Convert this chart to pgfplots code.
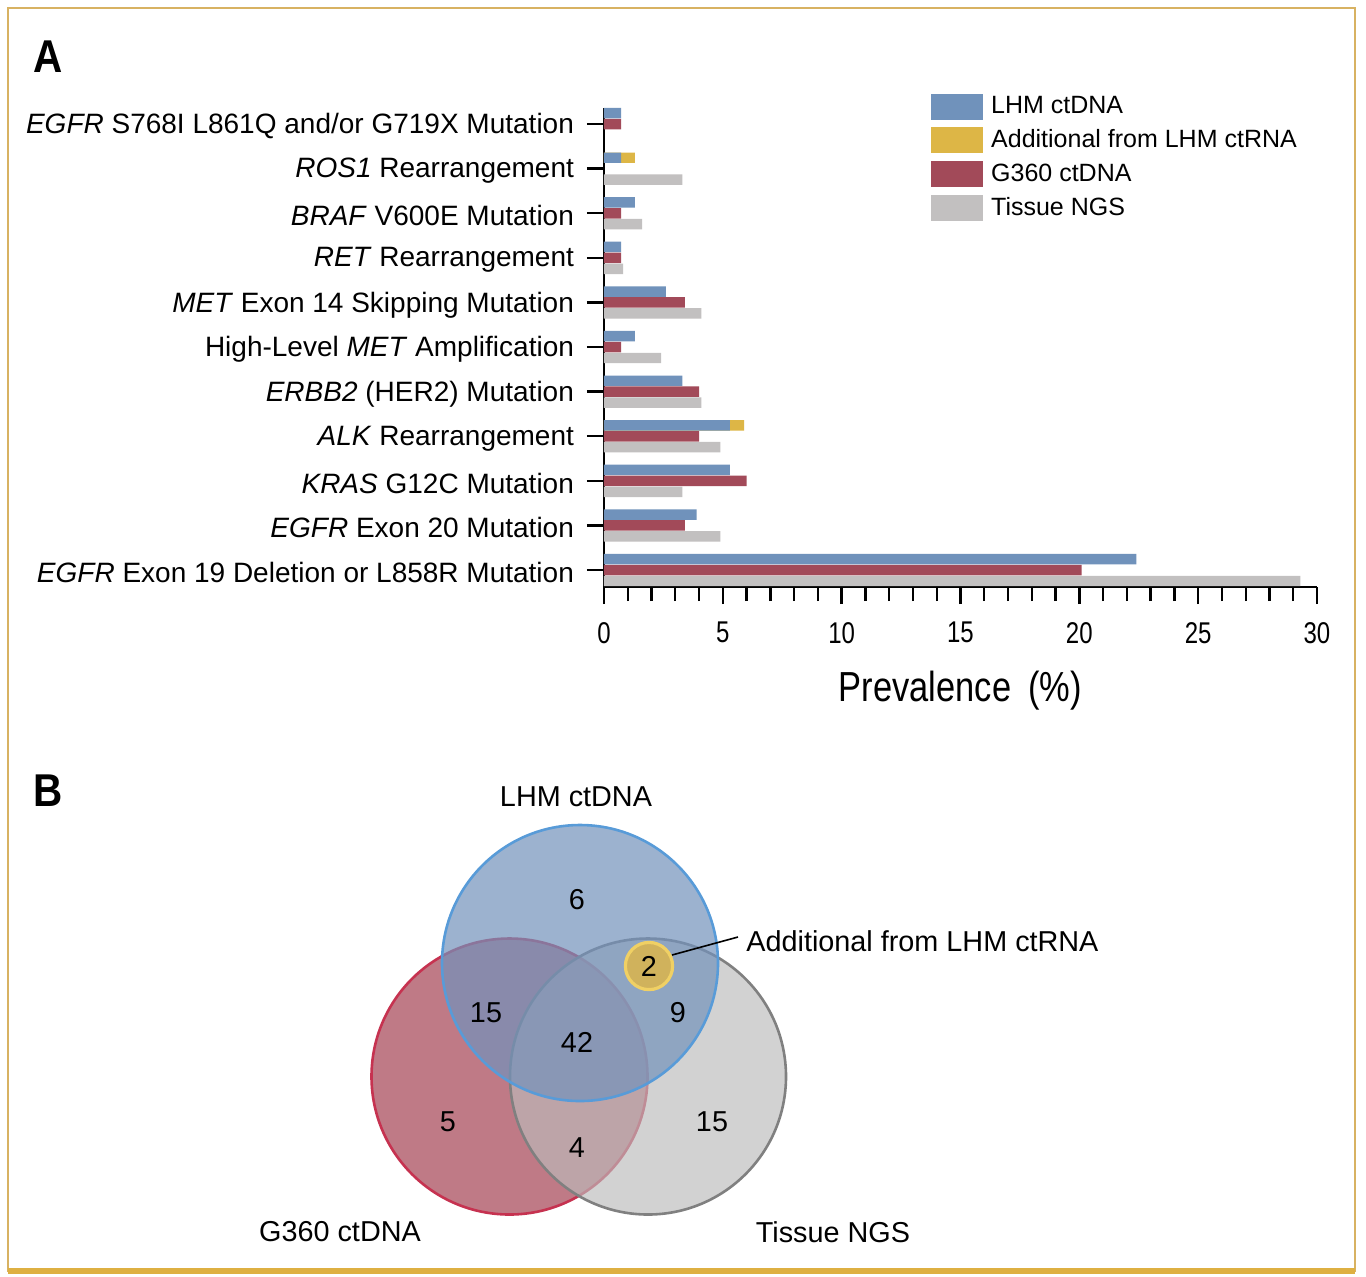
\documentclass[border=0pt]{standalone}
\usepackage{fontspec}
\setmainfont{Liberation Sans}
\usepackage{graphicx}
\usepackage{pgfplots}
\pgfplotsset{compat=1.18}
\definecolor{blueC}{RGB}{112,146,187}
\definecolor{redC}{RGB}{162,74,89}
\definecolor{grayC}{RGB}{194,192,192}
\definecolor{yellowC}{RGB}{221,182,70}
\definecolor{frameC}{RGB}{216,178,98}
\definecolor{frameD}{RGB}{222,176,66}
\definecolor{vblueF}{RGB}{115,146,187}
\definecolor{vblueB}{RGB}{88,155,216}
\definecolor{vredF}{RGB}{191,122,134}
\definecolor{vredB}{RGB}{198,50,80}
\definecolor{vgrayF}{RGB}{188,187,187}
\definecolor{vgrayB}{RGB}{128,128,128}
\definecolor{goldF}{RGB}{208,178,92}
\definecolor{goldB}{RGB}{240,208,100}
\newcommand{\catfont}{\fontsize{14}{16.8}\selectfont}
\newcommand{\vennfont}{\fontsize{14.4}{17}\selectfont}
\begin{document}
\begin{tikzpicture}
\begin{scope}[x=0.5pt,y=-0.5pt]
\useasboundingbox (0,0) rectangle (1366,1276);
\fill[white] (0,0) rectangle (1366,1276);
\draw[frameC, line width=1.2pt] (8,8) rectangle (1355,1271);
\draw[frameD, line width=2.6pt] (8,1271) -- (1355,1271);
\node[anchor=base west, inner sep=0pt] at (33,72) {\scalebox{0.88}[1]{\fontsize{23}{27}\selectfont\bfseries A}};
\node[anchor=base west, inner sep=0pt] at (33,806) {\scalebox{0.88}[1]{\fontsize{23}{27}\selectfont\bfseries B}};
\end{scope}

\begin{axis}[
  at={(302pt,-293.5pt)}, anchor=south west,
  scale only axis, width=356.5pt, height=239.5pt,
  xbar, bar width=0.235,
  xmin=0, xmax=30, ymin=-0.38, ymax=10.36,
  axis lines*=left,
  axis line style={line width=1.2pt, black},
  tick align=outside,
  major tick length=8.5pt, minor tick length=7pt,
  every tick/.style={line width=1.2pt, black},
  xtick={0,5,...,30}, minor x tick num=4,
  ytick={0,...,10},
  yticklabels={
    {\textit{EGFR} Exon 19 Deletion or L858R Mutation},
    {\textit{EGFR} Exon 20 Mutation},
    {\textit{KRAS} G12C Mutation},
    {\textit{ALK} Rearrangement},
    {\textit{ERBB2} (HER2) Mutation},
    {High-Level \textit{MET} Amplification},
    {\textit{MET} Exon 14 Skipping Mutation},
    {\textit{RET} Rearrangement},
    {\textit{BRAF} V600E Mutation},
    {\textit{ROS1} Rearrangement},
    {\textit{EGFR} S768I L861Q and/or G719X Mutation}},
  yticklabel style={font=\catfont, xshift=-3pt, yshift=-1.2pt},
  /pgf/number format/assume math mode=true,
  xticklabel={\scalebox{0.8}[1]{\pgfmathprintnumber{\tick}}},
  xticklabel style={font=\fontsize{15}{18}\selectfont, yshift=-5.5pt},
  xlabel={\scalebox{0.82}[1]{Prevalence\hspace{0.5em}(\%)}},
  xlabel style={font=\fontsize{21}{25}\selectfont, at={(axis description cs:0.5,-0.24)}, anchor=base},
  legend cell align=left,
  legend style={at={(0.4586,1.0335)}, anchor=north west, draw=none, fill=none,
    inner sep=0pt, row sep=2.5pt, font=\fontsize{12.5}{15}\selectfont,
    /tikz/every odd column/.append style={column sep=2pt}},
  clip=false,
]
\addlegendimage{legend image code/.code={\fill[blueC] (0pt,-6.25pt) rectangle (25.5pt,6.25pt);}}
\addlegendentry{LHM ctDNA}
\addlegendimage{legend image code/.code={\fill[yellowC] (0pt,-6.25pt) rectangle (25.5pt,6.25pt);}}
\addlegendentry{Additional from LHM ctRNA}
\addlegendimage{legend image code/.code={\fill[redC] (0pt,-6.25pt) rectangle (25.5pt,6.25pt);}}
\addlegendentry{G360 ctDNA}
\addlegendimage{legend image code/.code={\fill[grayC] (0pt,-6.25pt) rectangle (25.5pt,6.25pt);}}
\addlegendentry{Tissue NGS}
% LHM ctDNA + additional from ctRNA (total length)
\addplot[xbar, bar shift=0.245, fill=yellowC, draw=none, forget plot] coordinates {(1.3,9) (5.9,3)};
% LHM ctDNA
\addplot[xbar, bar shift=0.245, fill=blueC, draw=none, forget plot] coordinates {
(22.4,0) (3.9,1) (5.3,2) (5.3,3) (3.3,4) (1.3,5) (2.6,6) (0.72,7) (1.3,8) (0.72,9) (0.72,10)};
% G360 ctDNA
\addplot[xbar, bar shift=0, fill=redC, draw=none, forget plot] coordinates {
(20.1,0) (3.4,1) (6.0,2) (4.0,3) (4.0,4) (0.72,5) (3.4,6) (0.72,7) (0.72,8) (0.72,10)};
% Tissue NGS
\addplot[xbar, bar shift=-0.245, fill=grayC, draw=none, forget plot] coordinates {
(29.3,0) (4.9,1) (3.3,2) (4.9,3) (4.1,4) (2.4,5) (4.1,6) (0.8,7) (1.6,8) (3.3,9)};
\end{axis}

\begin{axis}[
  at={(0pt,-638pt)}, anchor=south west,
  scale only axis, width=683pt, height=268pt,
  xmin=0, xmax=1366, ymin=740, ymax=1276, y dir=reverse,
  hide axis, clip=false,
]
\addplot[only marks, mark=*, mark size=69pt, mark options={fill=vredF, draw=vredB, line width=1.3pt}] coordinates {(509.5,1076.5)};
\addplot[only marks, mark=*, mark size=69pt, mark options={fill=vgrayF, fill opacity=0.66, draw=vgrayB, draw opacity=1, line width=1.3pt}] coordinates {(648,1076.5)};
\addplot[only marks, mark=*, mark size=69pt, mark options={fill=vblueF, fill opacity=0.7, draw=vblueB, draw opacity=1, line width=1.3pt}] coordinates {(580,963)};
\addplot[only marks, mark=*, mark size=11.8pt, mark options={fill=goldF, draw=goldB, line width=1.6pt}] coordinates {(649,966)};
\end{axis}

\begin{scope}[x=0.5pt,y=-0.5pt]
\draw[black, line width=0.8pt] (672,955) -- (738,937);
\node[font=\vennfont] at (576,797) {LHM ctDNA};
\node[font=\vennfont] at (340,1232) {G360 ctDNA};
\node[font=\vennfont] at (833,1232) {Tissue NGS};
\node[font=\vennfont, anchor=west, inner sep=0pt] at (746,941) {Additional from LHM ctRNA};
\node[font=\vennfont] at (577,900) {6};
\node[font=\vennfont] at (649,966) {2};
\node[font=\vennfont] at (486,1013) {15};
\node[font=\vennfont] at (678,1013) {9};
\node[font=\vennfont] at (577,1042) {42};
\node[font=\vennfont] at (448,1122) {5};
\node[font=\vennfont] at (577,1148) {4};
\node[font=\vennfont] at (712,1122) {15};
\end{scope}
\end{tikzpicture}
\end{document}
